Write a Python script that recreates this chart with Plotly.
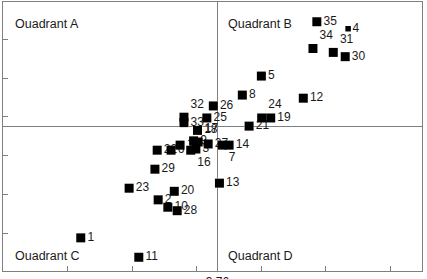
import plotly.graph_objects as go

# ---- data ----
labels = [str(i) for i in range(1, 36)]
x_vals = [3.336, 3.576, 3.693, 4.165, 3.896, 3.616, 3.774, 3.837, 3.686, 3.606,
          3.516, 4.026, 3.766, 3.796, 3.644, 3.677, 3.700, 3.698, 3.925, 3.626,
          3.858, 3.573, 3.486, 3.897, 3.727, 3.747, 3.731, 3.635, 3.566, 4.156,
          4.119, 3.656, 3.656, 4.056, 4.068]
y_vals = [3.613, 3.711, 3.842, 4.152, 4.030, 3.839, 3.852, 3.981, 3.863, 3.692,
          3.563, 3.973, 3.754, 3.852, 3.852, 3.839, 3.860, 3.890, 3.922, 3.733,
          3.901, 3.839, 3.741, 3.922, 3.922, 3.953, 3.855, 3.683, 3.790, 4.080,
          4.091, 3.924, 3.910, 4.101, 4.170]
x_mean = 3.76
y_mean = 3.90
x_mean_label = "3.76"
quadrant_names = ["Ouadrant A", "Quadrant B", "Ouadrant C", "Quadrant D"]

# ---- styles ----
label_pos_override = {"34": "top right", "31": "top right", "24": "top right",
                      "32": "top right", "17": "top right",
                      "16": "bottom right", "7": "bottom right"}
text_positions = [label_pos_override.get(l, "middle right") for l in labels]
marker_sizes = [5.5 if l == "4" else 9 for l in labels]
FONT = "Liberation Sans, Arial, sans-serif"
GRAY = "#7f7f7f"

fig = go.Figure()
# labels first (markers drawn over them)
fig.add_trace(go.Scatter(
    x=x_vals, y=y_vals, mode="markers+text", text=labels,
    textposition=text_positions,
    textfont=dict(family=FONT, size=12, color="#1a1a1a"),
    marker=dict(symbol="square", size=marker_sizes, color="rgba(0,0,0,0)"),
    hoverinfo="skip", cliponaxis=False))
fig.add_trace(go.Scatter(
    x=x_vals, y=y_vals, mode="markers",
    marker=dict(symbol="square", size=marker_sizes, color="#000000",
                opacity=1, line=dict(width=0)),
    text=labels, hoverinfo="text"))

# mean lines
fig.add_shape(type="line", xref="x", yref="paper", x0=x_mean, x1=x_mean,
              y0=0, y1=1, line=dict(color=GRAY, width=1), layer="below")
fig.add_shape(type="line", xref="paper", yref="y", x0=0, x1=1,
              y0=y_mean, y1=y_mean, line=dict(color=GRAY, width=1), layer="below")

x_ticks = [3.2955 + 0.2 * k for k in range(6)]
y_ticks = [3.6247 + 0.1 * k for k in range(6)]

fig.update_xaxes(range=[3.0949, 4.3941], showgrid=False, zeroline=False,
                 showline=True, mirror=True, linecolor=GRAY, linewidth=1,
                 ticks="inside", ticklen=5, tickcolor=GRAY,
                 tickvals=x_ticks + [x_mean],
                 ticktext=[""] * len(x_ticks) + [x_mean_label],
                 tickfont=dict(family=FONT, size=12, color="#1a1a1a"),
                 automargin=False)
fig.update_yaxes(range=[3.5276, 4.2209], showgrid=False, zeroline=False,
                 showline=True, mirror=True, linecolor=GRAY, linewidth=1,
                 ticks="inside", ticklen=5, tickcolor=GRAY,
                 tickvals=y_ticks, showticklabels=False, automargin=False)

quad_xy = [(0.024, 0.917), (0.532, 0.917), (0.023, 0.055), (0.533, 0.055)]
for name, (qx, qy) in zip(quadrant_names, quad_xy):
    fig.add_annotation(text=name, xref="paper", yref="paper", x=qx, y=qy,
                       xanchor="left", yanchor="middle", showarrow=False,
                       font=dict(family=FONT, size=12.5, color="#1a1a1a"))

fig.update_layout(width=427, height=279,
                  margin=dict(l=3, r=5, t=2, b=8, pad=0),
                  plot_bgcolor="white", paper_bgcolor="white",
                  showlegend=False)
fig.write_html("out.html")
